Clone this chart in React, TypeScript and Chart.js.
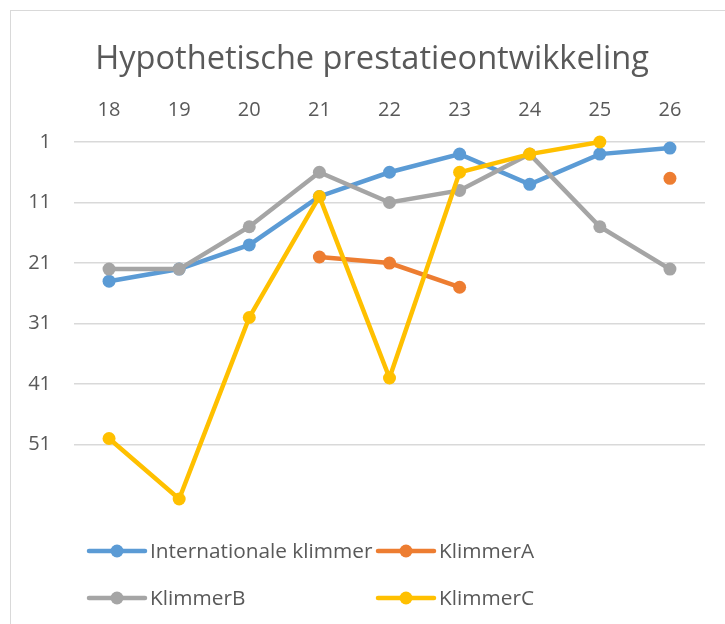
import React, { useEffect, useRef } from "react";
import { Chart, registerables } from "chart.js";

Chart.register(...registerables);

const categories = ["18", "19", "20", "21", "22", "23", "24", "25", "26"];
const internationaleKlimmer = [24, 22, 18, 10, 6, 3, 8, 3, 2];
const klimmerA = [null, null, null, 20, 21, 25, null, null, 7];
const klimmerB = [22, 22, 15, 6, 11, 9, 3, 15, 22];
const klimmerC = [50, 60, 30, 10, 40, 6, 3, 1, null];
const yTicks = [1, 11, 21, 31, 41, 51];
const yMin = 1;
const yMax = 60;
const titleText = "Hypothetische prestatieontwikkeling";

const FONT = "'Open Sans', sans-serif";
const TEXT = "#595959";

const frame = {
  id: "frame",
  afterLayout(chart: any) {
    if (chart.titleBlock) {
      chart.titleBlock.left = 10;
      chart.titleBlock.right = 734;
    }
  },
  beforeDraw(chart: any) {
    const ctx = chart.ctx;
    ctx.save();
    ctx.fillStyle = "#ffffff";
    ctx.fillRect(0, 0, chart.width, chart.height);
    ctx.strokeStyle = "#d9d9d9";
    ctx.lineWidth = 1;
    ctx.strokeRect(10.5, 10.5, 800, 800);
    ctx.restore();
  },
};

const gridLegend = {
  id: "gridLegend",
  afterDraw(chart: any) {
    const ctx = chart.ctx;
    const colX = [89, 378];
    const rowY = [551, 598];
    ctx.save();
    chart.data.datasets.forEach((d: any, i: number) => {
      const x0 = colX[i % 2];
      const y = rowY[Math.floor(i / 2)];
      ctx.strokeStyle = d.borderColor;
      ctx.lineWidth = 4.5;
      ctx.lineCap = "round";
      ctx.beginPath();
      ctx.moveTo(x0, y);
      ctx.lineTo(x0 + 56, y);
      ctx.stroke();
      ctx.fillStyle = d.borderColor;
      ctx.beginPath();
      ctx.arc(x0 + 28, y, 6.5, 0, Math.PI * 2);
      ctx.fill();
      ctx.fillStyle = TEXT;
      ctx.font = `20.8px ${FONT}`;
      ctx.textBaseline = "middle";
      ctx.textAlign = "left";
      ctx.fillText(d.label, x0 + 61, y + 1);
    });
    ctx.restore();
  },
};

function series(label: string, data: (number | null)[], color: string, order: number) {
  return {
    label,
    data,
    borderColor: color,
    backgroundColor: color,
    pointBackgroundColor: color,
    pointBorderColor: color,
    borderWidth: 4.5,
    pointRadius: 6.5,
    pointHoverRadius: 6.5,
    pointBorderWidth: 0,
    tension: 0,
    spanGaps: false,
    clip: false,
    order,
  };
}

export default function App() {
  const ref = useRef<HTMLCanvasElement | null>(null);
  useEffect(() => {
    if (!ref.current) return;
    const chart = new Chart(ref.current, {
      type: "line",
      data: {
        labels: categories,
        datasets: [
          series("Internationale klimmer", internationaleKlimmer, "#5B9BD5", 3),
          series("KlimmerA", klimmerA, "#ED7D31", 2),
          series("KlimmerB", klimmerB, "#A5A5A5", 1),
          series("KlimmerC", klimmerC, "#FFC000", 0),
        ],
      },
      options: {
        responsive: false,
        animation: false,
        layout: { padding: { left: 10, right: 29, top: 10, bottom: 125 } },
        plugins: {
          legend: { display: false },
          tooltip: { enabled: false },
          title: {
            display: true,
            text: titleText,
            color: TEXT,
            font: { family: FONT, size: 32.6, weight: "normal" },
            padding: { top: 30, bottom: 10.9 },
          },
        },
        scales: {
          x: {
            position: "top",
            offset: true,
            grid: { display: false, drawTicks: false, offset: true },
            border: { display: false },
            ticks: { color: TEXT, font: { family: FONT, size: 20 }, padding: 20 },
            afterFit: (s: any) => {
              s.height = 52;
            },
          },
          y: {
            reverse: true,
            min: yMin,
            max: yMax,
            grid: { color: "#d9d9d9", lineWidth: 1.5, drawTicks: false },
            border: { display: false },
            ticks: { color: TEXT, font: { family: FONT, size: 20 }, padding: 23 },
            afterBuildTicks: (s: any) => {
              s.ticks = yTicks.map((v) => ({ value: v }));
            },
            afterFit: (s: any) => {
              s.width = 64;
            },
          },
        },
      },
      plugins: [frame, gridLegend],
    } as any);
    return () => chart.destroy();
  }, []);
  return (
    <canvas
      ref={ref}
      width={734}
      height={624}
      style={{ position: "fixed", left: 0, top: 0, width: 734, height: 624 }}
    />
  );
}
